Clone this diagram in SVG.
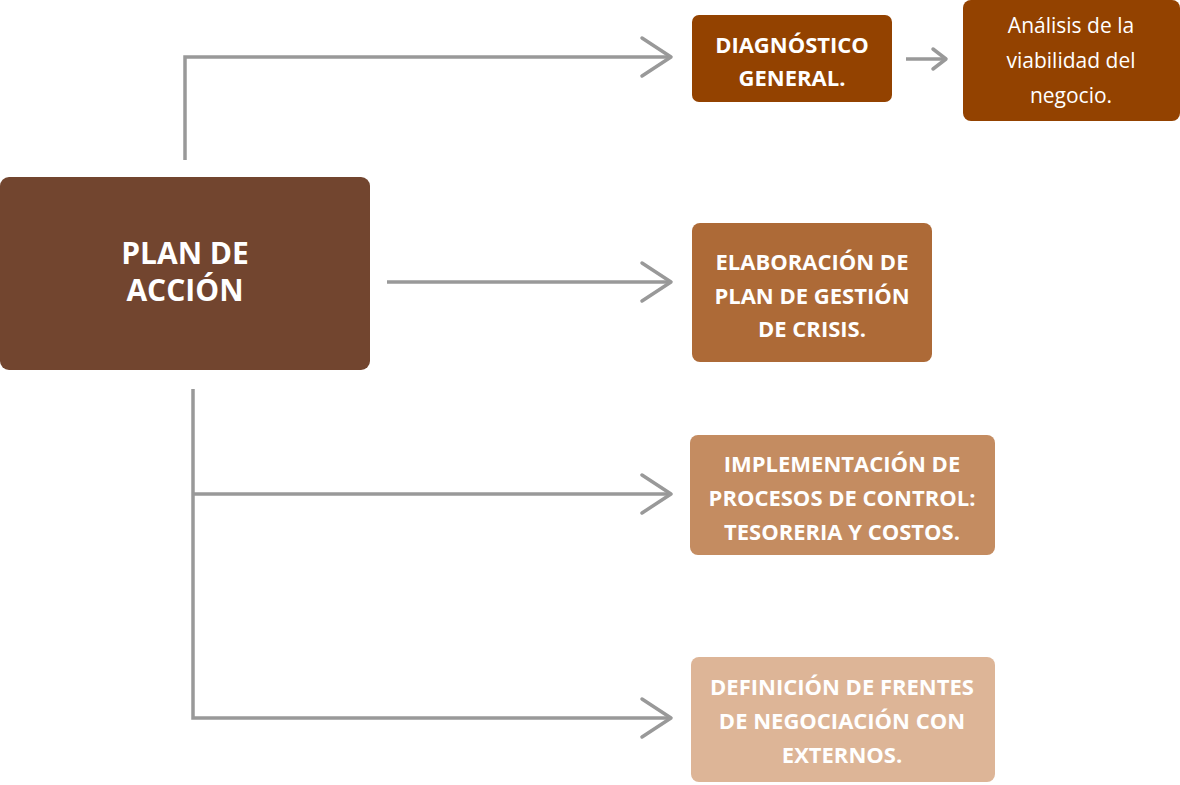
<svg xmlns="http://www.w3.org/2000/svg" width="1180" height="785" viewBox="0 0 1180 785">
<style>
.b{font-family:"Open Sans","Liberation Sans",sans-serif;font-weight:bold;fill:#fff;text-anchor:middle;font-size:22px}
.r{font-family:"Open Sans","Liberation Sans",sans-serif;font-weight:normal;fill:#fff;text-anchor:middle;font-size:21px}
.t{font-family:"Open Sans","Liberation Sans",sans-serif;font-weight:bold;fill:#fff;text-anchor:middle;font-size:30px}
.c{fill:none;stroke:#999;stroke-width:3.5;stroke-linejoin:miter}
.h{fill:none;stroke:#999;stroke-width:3.5;stroke-linecap:round;stroke-linejoin:round}
</style>
<rect width="1180" height="785" fill="#fff"/>
<g id="connectors">
<path class="c" d="M185,160 V57 H670"/>
<path class="h" d="M642,38 L671,57 L642,76"/>
<path class="c" d="M387,282 H670"/>
<path class="h" d="M642,263 L671,282 L642,301"/>
<path class="c" d="M193,389 V718 H670 M193,494 H670"/>
<path class="h" d="M642,475 L671,494 L642,513"/>
<path class="h" d="M642,699 L671,718 L642,737"/>
<path class="c" d="M906,59 H944"/>
<path class="h" d="M933,49 L946,59 L933,69"/>
</g>
<g id="plan">
<rect x="0" y="177" width="370" height="193" rx="9" fill="#72452F"/>
<text class="t" x="185" y="264">PLAN DE</text>
<text class="t" x="185" y="301">ACCIÓN</text>
</g>
<g id="diagnostico">
<rect x="692" y="15" width="200" height="87" rx="7" fill="#934200"/>
<text class="b" x="792" y="53">DIAGNÓSTICO</text>
<text class="b" x="792" y="86">GENERAL.</text>
</g>
<g id="analisis">
<rect x="963" y="0" width="217" height="121" rx="8" fill="#934200"/>
<text class="r" x="1071" y="33">Análisis de la</text>
<text class="r" x="1071" y="68">viabilidad del</text>
<text class="r" x="1071" y="103">negocio.</text>
</g>
<g id="elaboracion">
<rect x="692" y="223" width="240" height="139" rx="8" fill="#AD6A37"/>
<text class="b" x="812" y="270">ELABORACIÓN DE</text>
<text class="b" x="812" y="304">PLAN DE GESTIÓN</text>
<text class="b" x="812" y="337">DE CRISIS.</text>
</g>
<g id="implementacion">
<rect x="690" y="435" width="305" height="120" rx="8" fill="#C48C61"/>
<text class="b" x="842" y="472">IMPLEMENTACIÓN DE</text>
<text class="b" x="842" y="506">PROCESOS DE CONTROL:</text>
<text class="b" x="842" y="540">TESORERIA Y COSTOS.</text>
</g>
<g id="definicion">
<rect x="691" y="657" width="304" height="125" rx="8" fill="#DDB597"/>
<text class="b" x="842" y="695">DEFINICIÓN DE FRENTES</text>
<text class="b" x="842" y="729">DE NEGOCIACIÓN CON</text>
<text class="b" x="842" y="763">EXTERNOS.</text>
</g>
</svg>
